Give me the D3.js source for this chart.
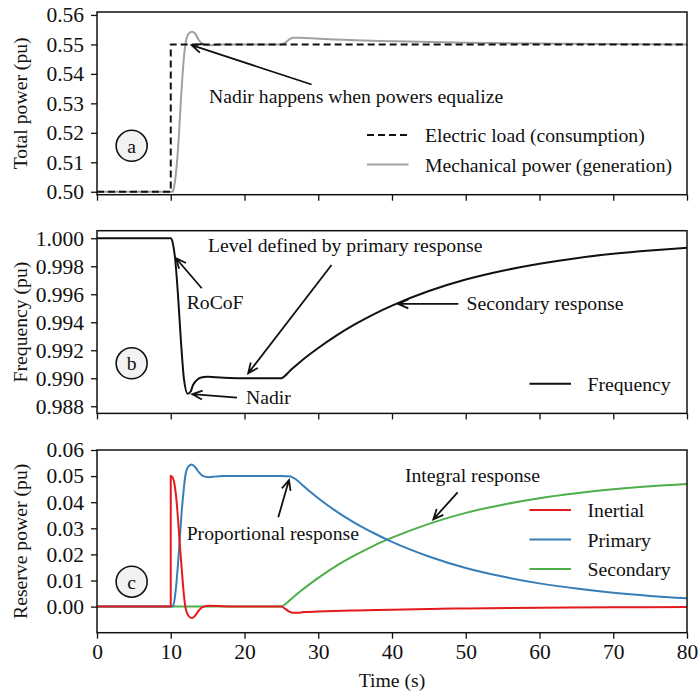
<!DOCTYPE html>
<html>
<head>
<meta charset="utf-8">
<script src="https://cdn.jsdelivr.net/npm/d3@7"></script>
<style>
  html, body { margin: 0; padding: 0; background: #fff; }
  svg text { font-family: "Liberation Serif", "Times New Roman", serif; fill: #111; }
</style>
</head>
<body>
<svg id="chart" width="698" height="691"></svg>
<script>
// ---- Time axis ----
const timeTicks = [0, 10, 20, 30, 40, 50, 60, 70, 80];

// ---- Panel (a): total power ----
const loadT = [0, 10, 10, 80];
const loadP = [0.5, 0.5, 0.55, 0.55];

const mechT = [0, 10.2, 10.3, 10.6, 11.0, 11.4, 11.8, 12.2, 12.6, 12.9, 13.3, 13.8, 14.3, 15.0, 16.0, 17.0, 25.0, 25.5, 26.0, 26.6, 27.5, 30, 35, 40, 50, 60, 70, 80];
const mechP = [0.5, 0.5, 0.5002, 0.504, 0.515, 0.532, 0.546, 0.5525, 0.5541, 0.5543, 0.5537, 0.5515, 0.5502, 0.5497, 0.5498, 0.55, 0.55, 0.5505, 0.5516, 0.5523, 0.5523, 0.5519, 0.5514, 0.5511, 0.5506, 0.5503, 0.5501, 0.55];
const powerTicks = [0.50, 0.51, 0.52, 0.53, 0.54, 0.55, 0.56];

// ---- Panel (b): frequency ----
const freqT = [0, 10, 10.3, 10.6, 11.0, 11.4, 11.8, 12.3, 12.7, 13.0, 13.5, 14.0, 15.0, 16.0, 18.0, 20.0, 25.0, 25.5, 26.0, 26.5, 27.5, 30, 32.5, 35, 37.5, 40, 45, 50, 55, 60, 65, 70, 75, 80];
const freqV = [1.0, 1.0, 0.9996, 0.9985, 0.9958, 0.9925, 0.9899, 0.98889, 0.98905, 0.9895, 0.98985, 0.99004, 0.9901, 0.99007, 0.99002, 0.99, 0.99, 0.99018, 0.99044, 0.99069, 0.99115, 0.99216, 0.99306, 0.99386, 0.99457, 0.99519, 0.99623, 0.99705, 0.99768, 0.99818, 0.99858, 0.99889, 0.99913, 0.99932];
const freqTicks = [0.988, 0.990, 0.992, 0.994, 0.996, 0.998, 1.000];

// ---- Panel (c): reserve power ----
const inertialT = [0, 10, 10, 10.2, 10.5, 10.8, 11.0, 11.25, 11.5, 11.8, 12.0, 12.4, 12.85, 13.3, 13.8, 14.4, 15.2, 16.5, 18, 25, 25.5, 26, 26.6, 27.3, 28, 30, 35, 40, 45, 50, 60, 70, 80];
const inertialV = [0, 0, 0.05, 0.0497, 0.047, 0.04, 0.033, 0.023, 0.014, 0.004, -0.0005, -0.0035, -0.0044, -0.0035, -0.0015, -0.0001, 0.0003, 0.0002, 0, 0, -0.0008, -0.0018, -0.0024, -0.0024, -0.0021, -0.0019, -0.0015, -0.0012, -0.0009, -0.0007, -0.00045, -0.00028, -0.00017];

const primaryT = [0, 10, 10.3, 10.5, 10.8, 11.0, 11.25, 11.5, 11.8, 12.0, 12.4, 12.85, 13.3, 13.8, 14.4, 15.2, 16, 17, 25, 25.5, 26, 26.5, 27, 27.5, 28, 29, 30, 32.5, 35, 37.5, 40, 45, 50, 55, 60, 65, 70, 75, 80];
const primaryV = [0, 0, 0.0003, 0.0025, 0.01, 0.017, 0.027, 0.037, 0.046, 0.0505, 0.0537, 0.0544, 0.0535, 0.0515, 0.05, 0.0496, 0.0498, 0.05, 0.05, 0.04997, 0.0499, 0.0495, 0.0487, 0.0475, 0.0462, 0.0438, 0.0415, 0.0364, 0.032, 0.0282, 0.0248, 0.0192, 0.0148, 0.0115, 0.0089, 0.0069, 0.0053, 0.0041, 0.0032];

const secondaryT = [0, 25, 25.5, 26, 26.5, 27, 27.5, 28, 30, 32.5, 35, 37.5, 40, 45, 50, 55, 60, 65, 70, 75, 80];
const secondaryV = [0, 0, 0.0009, 0.0021, 0.0033, 0.0045, 0.0057, 0.0068, 0.011, 0.0157, 0.0197, 0.0233, 0.0264, 0.0317, 0.0359, 0.03905, 0.04155, 0.04345, 0.04498, 0.04612, 0.04697];
const reserveTicks = [0.00, 0.01, 0.02, 0.03, 0.04, 0.05, 0.06];

// ---- Layout ----
const svg = d3.select("#chart");
const left = 97, right = 687, panelH = 182.7;
const tops = [12, 230.7, 450];
const textSize = 19.7, tickSize = 21.5;
const x = d3.scaleLinear().domain([0, 80]).range([left, right]);

const colors = { inertial: "#e41a1c", primary: "#377eb8", secondary: "#4daf4a", mech: "#a0a0a0" };

function zip(ts, vs) { return ts.map((t, i) => [t, vs[i]]); }

function makePanel(top, domain, ticks, fmt, title, showXLabels) {
  const y = d3.scaleLinear().domain(domain).range([top + panelH, top]);
  const g = svg.append("g");
  const clipId = "clip" + Math.round(top);
  g.append("clipPath").attr("id", clipId).append("rect")
    .attr("x", left).attr("y", top).attr("width", right - left).attr("height", panelH);
  const plot = g.append("g").attr("clip-path", `url(#${clipId})`);

  // y axis
  const ya = g.append("g").attr("transform", `translate(${left},0)`)
    .call(d3.axisLeft(y).tickValues(ticks).tickFormat(fmt).tickSizeOuter(0).tickSize(6).tickPadding(7));
  // x axis
  const xa = g.append("g").attr("transform", `translate(0,${top + panelH})`)
    .call(d3.axisBottom(x).tickValues(timeTicks).tickFormat(showXLabels ? d3.format("d") : () => "")
      .tickSizeOuter(0).tickSize(6).tickPadding(5));
  [ya, xa].forEach(a => {
    a.select(".domain").remove();
    a.selectAll(".tick line").attr("stroke", "#111").attr("stroke-width", 1.3);
    a.selectAll(".tick text").attr("font-size", tickSize).style("font-family", "'Liberation Serif', serif").attr("fill", "#111");
  });
  // frame
  g.append("rect").attr("x", left).attr("y", top).attr("width", right - left).attr("height", panelH)
    .attr("fill", "none").attr("stroke", "#111").attr("stroke-width", 1.5);
  // y title
  g.append("text")
    .attr("transform", `translate(20,${top + panelH / 2}) rotate(-90)`)
    .attr("text-anchor", "middle").attr("dominant-baseline", "central")
    .attr("font-size", textSize).text(title);
  return { g, plot, y };
}

function drawLine(panel, data, color, width, dash, curve) {
  const line = d3.line().x(d => x(d[0])).y(d => panel.y(d[1])).curve(curve || d3.curveMonotoneX);
  panel.plot.append("path").datum(data).attr("d", line)
    .attr("fill", "none").attr("stroke", color).attr("stroke-width", width)
    .attr("stroke-dasharray", dash || null).attr("stroke-linejoin", "round");
}

function arrow(panel, from, to) {
  const x1 = x(from[0]), y1 = panel.y(from[1]), x2 = x(to[0]), y2 = panel.y(to[1]);
  const ang = Math.atan2(y2 - y1, x2 - x1), L = 11, w = 0.42;
  const p = d3.path();
  p.moveTo(x1, y1); p.lineTo(x2, y2);
  p.moveTo(x2 - L * Math.cos(ang - w), y2 - L * Math.sin(ang - w));
  p.lineTo(x2, y2);
  p.lineTo(x2 - L * Math.cos(ang + w), y2 - L * Math.sin(ang + w));
  panel.g.append("path").attr("d", p.toString()).attr("fill", "none")
    .attr("stroke", "#111").attr("stroke-width", 1.8).attr("stroke-linejoin", "miter");
}

function note(panel, at, str) {
  panel.g.append("text").attr("x", x(at[0])).attr("y", panel.y(at[1]))
    .attr("font-size", textSize).text(str);
}

function badge(panel, at, letter) {
  const cx = x(at[0]), cy = panel.y(at[1]);
  panel.g.append("circle").attr("cx", cx).attr("cy", cy).attr("r", 15.5)
    .attr("fill", "#f2f2f2").attr("stroke", "#111").attr("stroke-width", 1.6);
  panel.g.append("text").attr("x", cx).attr("y", cy).attr("text-anchor", "middle")
    .attr("dominant-baseline", "central").attr("font-size", textSize).text(letter);
}

function legend(panel, x0, y0, rows) {
  rows.forEach((r, i) => {
    const yy = panel.y.range()[1] + y0 + i * 29.5;
    panel.g.append("line").attr("x1", x0).attr("x2", x0 + 41.5).attr("y1", yy).attr("y2", yy)
      .attr("stroke", r.color).attr("stroke-width", r.width || 2).attr("stroke-dasharray", r.dash || null);
    panel.g.append("text").attr("x", x0 + 58).attr("y", yy).attr("dominant-baseline", "central")
      .attr("font-size", textSize).text(r.label);
  });
}

const f2 = d3.format(".2f"), f3 = d3.format(".3f");

// Panel (a)
const pa = makePanel(tops[0], [0.499, 0.561], powerTicks, f2, "Total power (pu)", false);
drawLine(pa, zip(mechT, mechP), colors.mech, 2);
drawLine(pa, zip(loadT, loadP), "#111", 2, "7,4", d3.curveLinear);
arrow(pa, [29.1, 0.5364], [12.84, 0.54975]);
note(pa, [15.2, 0.5301], "Nadir happens when powers equalize");
badge(pa, [4.7, 0.5156], "a");
legend(pa, 367, 123, [
  { color: "#111", dash: "7,4", label: "Electric load (consumption)" },
  { color: colors.mech, label: "Mechanical power (generation)" }
]);

// Panel (b)
const pb = makePanel(tops[1], [0.98749, 1.00054], freqTicks, f3, "Frequency (pu)", false);
drawLine(pb, zip(freqT, freqV), "#111", 2);
arrow(pb, [31.8, 0.99809], [20.5, 0.99036]);
note(pb, [15.05, 0.99902], "Level defined by primary response");
arrow(pb, [14.2, 0.99643], [10.71, 0.99857]);
note(pb, [12.16, 0.99495], "RoCoF");
arrow(pb, [18.98, 0.98861], [12.92, 0.98886]);
note(pb, [20.2, 0.98815], "Nadir");
arrow(pb, [49.0, 0.99531], [40.85, 0.99531]);
note(pb, [50.1, 0.99487], "Secondary response");
badge(pb, [4.7, 0.99107], "b");
legend(pb, 529.5, 153, [{ color: "#111", label: "Frequency" }]);

// Panel (c)
const pc = makePanel(tops[2], [-0.01, 0.06], reserveTicks, f2, "Reserve power (pu)", true);
drawLine(pc, zip(secondaryT, secondaryV), colors.secondary, 2);
drawLine(pc, zip(primaryT, primaryV), colors.primary, 2);
drawLine(pc, zip(inertialT, inertialV), colors.inertial, 2);
arrow(pc, [24.58, 0.0342], [26.03, 0.0485]);
note(pc, [12.16, 0.0255], "Proportional response");
arrow(pc, [48.9, 0.0438], [45.6, 0.0334]);
note(pc, [41.76, 0.0479], "Integral response");
badge(pc, [4.7, 0.00954], "c");
legend(pc, 529.5, 60, [
  { color: colors.inertial, label: "Inertial" },
  { color: colors.primary, label: "Primary" },
  { color: colors.secondary, label: "Secondary" }
]);

// x title
svg.append("text").attr("x", x(40)).attr("y", 680).attr("text-anchor", "middle")
  .attr("dominant-baseline", "central").attr("font-size", textSize).text("Time (s)");
</script>
</body>
</html>
